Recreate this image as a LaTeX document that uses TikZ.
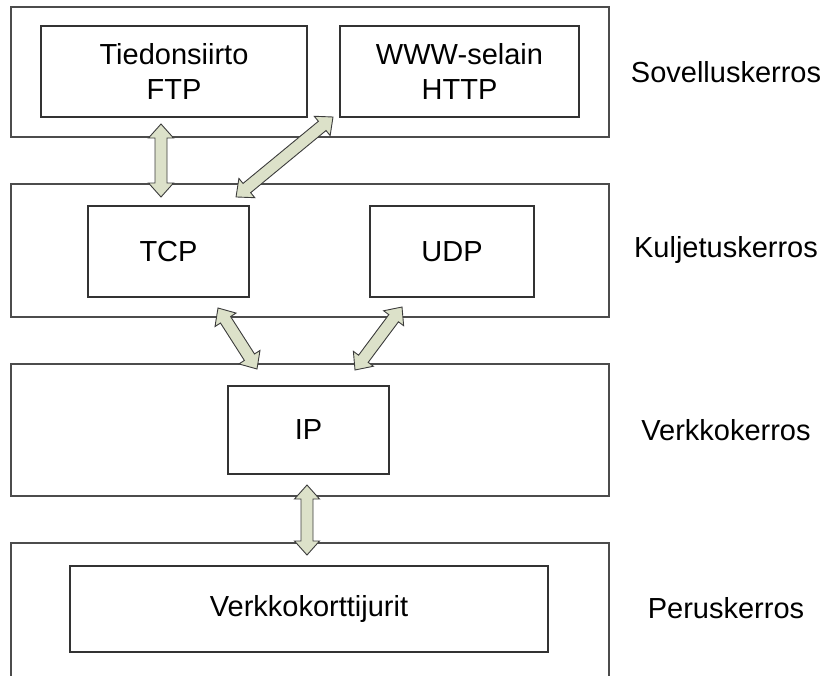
\documentclass[tikz,border=0pt]{standalone}
\usepackage{fontspec}
\setmainfont{Liberation Sans}
\usetikzlibrary{calc}

\definecolor{arrowfill}{HTML}{DCE1C9}
\definecolor{arrowline}{HTML}{3C3C3C}

% Double-headed block arrow between two named coordinates
\newcommand\blockarrow[2]{%
  \draw[blockarr] let \p1=(#1), \p2=(#2),
      \n1={atan2(\y2-\y1,\x2-\x1)}, \n2={veclen(\x2-\x1,\y2-\y1)} in
    [shift={(\p1)}, rotate=\n1]
    (0,0) -- (14,12.5) -- (14,6) -- ({\n2-14},6) -- ({\n2-14},12.5)
    -- ({\n2},0) -- ({\n2-14},-12.5) -- ({\n2-14},-6) -- (14,-6)
    -- (14,-12.5) -- cycle;}

\begin{document}
\begin{tikzpicture}[x=1pt,y=-1pt,
  every node/.style={font=\fontsize{29}{35}\selectfont, inner sep=0pt, align=center},
  layer/.style={draw=black!70, line width=1.4pt, minimum width=598pt},
  unit/.style={draw=black!80, line width=1.1pt},
  layername/.style={anchor=center},
  blockarr/.style={fill=arrowfill, draw=arrowline, line width=0.9pt, line join=miter}]

\useasboundingbox (0,0) rectangle (827,675);
\clip (0,0) rectangle (827,675);

% Protocol layers (the lowest one runs past the lower edge)
\node[layer, minimum height=130pt] (app) at (310,72) {};
\node[layer, minimum height=133pt] (trans) at (310,250.5) {};
\node[layer, minimum height=132pt] (net) at (310,430) {};
\node[layer, minimum height=140pt] (link) at (310,613) {};

% Protocols inside the layers
\node[unit, minimum width=266pt, minimum height=91pt] (ftp) at (174,71.5) {Tiedonsiirto\\FTP};
\node[unit, minimum width=239pt, minimum height=91pt] (www) at (459.5,71.5) {WWW-selain\\HTTP};
\node[unit, minimum width=161pt, minimum height=91pt] (tcp) at (168.5,251.5) {TCP};
\node[unit, minimum width=164pt, minimum height=91pt] (udp) at (452,251.5) {UDP};
\node[unit, minimum width=161pt, minimum height=88pt] (ip) at (308.5,430) {IP};
\node[unit, minimum width=478pt, minimum height=86pt] (nic) at (309,609) {Verkkokorttijurit};

% Layer names
\node[layername] (appname) at (726,72) {Sovelluskerros};
\node[layername] (transname) at (726,250) {Kuljetuskerros};
\node[layername] (netname) at (726,430) {Verkkokerros};
\node[layername] (linkname) at (726,608) {Peruskerros};

% Arrow end points
\coordinate (ftpdown) at (161,124);
\coordinate (tcpup) at (161,197);
\coordinate (wwwdown) at (333,117);
\coordinate (tcpup2) at (236,197);
\coordinate (tcpdown) at (218,308);
\coordinate (ipup) at (257,369);
\coordinate (udpdown) at (402,307);
\coordinate (ipup2) at (355,370);
\coordinate (ipdown) at (307,485);
\coordinate (nicup) at (307,555);

% Data flow between the layers
\blockarrow{ftpdown}{tcpup}
\blockarrow{wwwdown}{tcpup2}
\blockarrow{tcpdown}{ipup}
\blockarrow{udpdown}{ipup2}
\blockarrow{ipdown}{nicup}
\end{tikzpicture}
\end{document}
